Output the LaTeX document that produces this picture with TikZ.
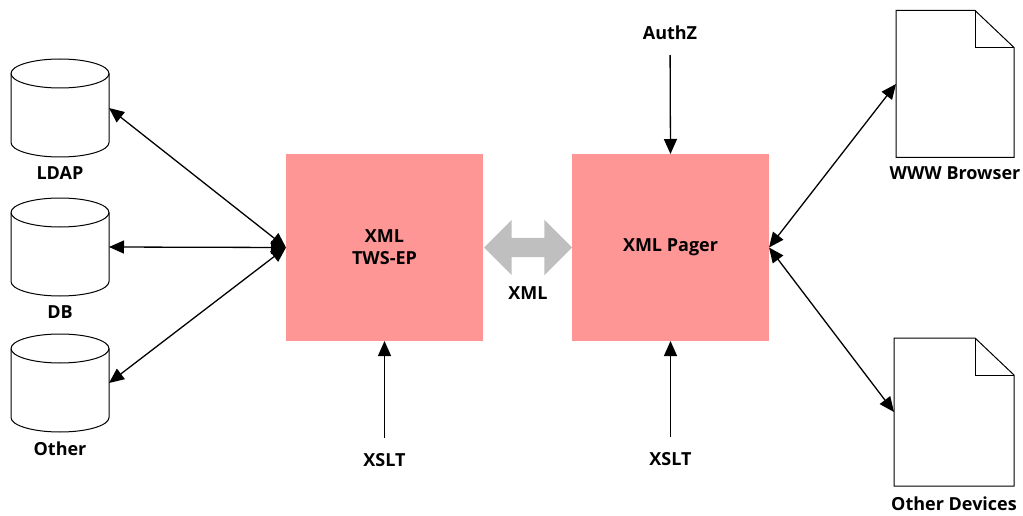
\documentclass[tikz,border=0pt]{standalone}
\usepackage{fontspec}
\setmainfont{Open Sans}
\usepackage{xcolor}
\usetikzlibrary{arrows.meta,positioning,shapes.arrows}
\definecolor{colorbox}{rgb}{1, 0.59, 0.59}
\definecolor{colorxml}{rgb}{0.75, 0.75, 0.75}
\tikzstyle{store}=[rectangle, minimum width=98pt, minimum height=98pt, inner sep=0pt, outer sep=0pt]
\tikzstyle{engine}=[rectangle, fill=colorbox, minimum width=197pt, minimum height=187pt, align=center, inner sep=0pt, outer sep=0pt]
\tikzstyle{source}=[minimum height=44pt, inner sep=0pt, outer sep=0pt]
\tikzstyle{caption}=[inner sep=0pt]
\tikzstyle{page}=[rectangle, inner sep=0pt, outer sep=0pt]
\tikzstyle{outline}=[-, draw=black, line width=1pt]
\tikzstyle{link}=[<->, line width=1.3pt]
\newcommand{\drawpage}[1]{
	\draw[outline] (#1.south west) -- (#1.north west) -- ([xshift=-39pt]#1.north east) -- ([yshift=-37pt]#1.north east) -- (#1.south east) -- cycle;
	\draw[outline] ([xshift=-39pt]#1.north east) -- ([xshift=-39pt, yshift=-37pt]#1.north east) -- ([yshift=-37pt]#1.north east);
}
\newcommand{\drawstore}[1]{
	\draw[outline] ([yshift=-14.5pt]#1.north west) arc[start angle=180, end angle=0, x radius=49pt, y radius=14.5pt] -- ([yshift=14.5pt]#1.south east) arc[start angle=360, end angle=180, x radius=49pt, y radius=14.5pt] -- cycle;
	\draw[outline] ([yshift=-14.5pt]#1.north west) arc[start angle=180, end angle=360, x radius=49pt, y radius=14.5pt];
}
\begin{document}
\begin{tikzpicture}[x=1pt, y=-1pt, font=\fontsize{18}{23}\selectfont\bfseries, >={Stealth[length=15pt, width=13pt, inset=0pt]}]
		\useasboundingbox (0, 0) rectangle (1023, 516);
		
		\node[store] at (60, 108) (ldap) {};
		\node[store] at (60, 247) (db) {};
		\node[store] at (60, 383) (other) {};
		\drawstore{ldap}
		\drawstore{db}
		\drawstore{other}
		
		\node[caption] at (60, 173) (ldaplabel) {LDAP};
		\node[caption] at (60, 312) (dblabel) {DB};
		\node[caption] at (60, 449) (otherlabel) {Other};
		
		\node[engine] at (384.5, 247.5) (tws) {XML\\[-1pt]TWS-EP};
		\node[engine] at (670.5, 247.5) (pager) {XML Pager};
		
		\node[double arrow, fill=colorxml, minimum height=88pt, minimum width=55pt, double arrow head extend=18pt, inner xsep=0pt, inner ysep=9.5pt, outer sep=0pt] at (528, 247.5) (xmlarrow) {};
		\node[caption] at (528, 293) (xmllabel) {XML};
		
		\node[source] at (670, 33) (authz) {AuthZ};
		\node[source] at (384.5, 460) (xslttws) {XSLT};
		\node[source] at (670.5, 459) (xsltpager) {XSLT};
		
		\node[page, minimum width=118pt, minimum height=147pt] at (955, 84) (www) {};
		\node[page, minimum width=120pt, minimum height=148pt] at (954, 412) (devices) {};
		\drawpage{www}
		\drawpage{devices}
		
		\node[caption] at (955, 173) (wwwlabel) {WWW Browser};
		\node[caption] at (954, 504) (deviceslabel) {Other Devices};
		
		\path[link] (ldap.east) edge (tws.west);
		\path[link] (db.east) edge (tws.west);
		\path[link] (other.east) edge (tws.west);
		\path[link] (pager.east) edge (www.west);
		\path[link] (pager.east) edge (devices.west);
		\path[link] (authz) edge[->] (pager.north);
		\path[link] (xslttws) edge[->] (tws.south);
		\path[link] (xsltpager) edge[->] (pager.south);
		
		\end{tikzpicture}
\end{document}
